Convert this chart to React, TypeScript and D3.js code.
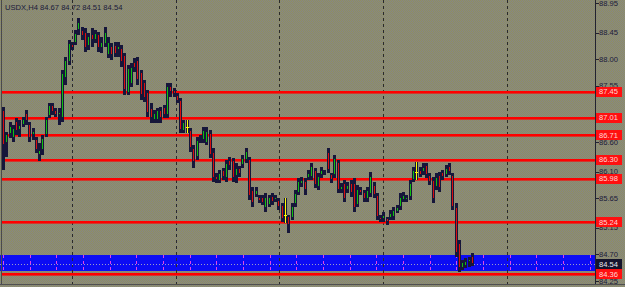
import React, { useEffect } from "react";
import * as d3 from "d3";

const symbol = "USDX,H4";
const opens = [87.14,86.58,86.74,86.67,86.96,86.80,86.89,87.09,86.90,86.72,
86.65,86.38,86.46,86.72,87.04,87.23,87.14,87.06,87.01,87.68,
87.95,88.26,88.27,88.49,88.49,88.46,88.22,88.43,88.32,88.43,
88.19,88.26,88.07,88.22,88.24,88.16,88.19,88.07,87.43,87.58,
87.95,87.99,87.78,87.61,87.45,87.17,86.97,86.97,87.14,87.19,
87.06,87.55,87.48,87.39,87.31,86.79,86.85,86.80,86.50,86.35,
86.63,86.63,86.58,86.75,86.43,86.03,85.94,86.13,85.99,86.30,
86.30,86.03,86.16,86.21,86.30,86.31,85.79,85.70,85.67,85.67,
85.48,85.54,85.69,85.62,85.62,85.54,85.37,85.35,85.32,85.55,
85.74,85.89,85.94,85.99,86.01,86.13,85.84,86.04,86.11,86.43,
86.06,86.04,86.26,85.79,85.91,85.79,85.91,85.91,85.54,85.81,
85.76,85.64,85.72,85.87,85.70,85.33,85.30,85.32,85.32,85.33,
85.42,85.50,85.62,85.62,85.67,85.96,86.09,86.13,86.09,86.21,
86.04,85.96,85.84,86.04,86.09,86.04,86.19,86.04,85.50,84.89,
84.47,84.50,84.57,84.67];
const highs = [87.19,86.77,86.94,86.89,87.01,86.97,87.02,87.14,86.94,86.84,
86.68,86.58,86.72,87.02,87.26,87.26,87.17,87.17,87.82,88.04,
88.32,88.29,88.49,88.70,88.54,88.53,88.44,88.53,88.49,88.46,
88.37,88.54,88.37,88.27,88.29,88.29,88.24,88.10,87.90,87.94,
88.02,88.04,87.82,87.65,87.48,87.26,87.14,87.17,87.19,87.23,
87.60,87.60,87.51,87.43,87.34,86.97,86.97,86.84,86.55,86.68,
86.72,86.85,86.85,86.80,86.50,86.08,86.13,86.16,86.30,86.35,
86.33,86.25,86.19,86.38,86.50,86.35,85.84,85.84,85.70,85.70,
85.74,85.70,85.74,85.70,85.65,85.57,85.65,85.37,85.57,85.79,
85.99,86.01,85.99,86.13,86.25,86.16,86.08,86.18,86.13,86.50,
86.08,86.38,86.30,85.91,85.96,85.92,85.96,85.99,85.87,85.84,
85.79,85.84,86.09,85.92,85.74,85.37,85.42,85.33,85.45,85.50,
85.54,85.74,85.76,85.70,85.96,86.18,86.26,86.18,86.25,86.25,
86.08,86.01,86.08,86.09,86.13,86.21,86.25,86.08,85.57,84.94,
84.61,84.64,84.66,84.72];
const lows = [86.13,86.35,86.67,86.60,86.72,86.68,86.85,86.89,86.60,86.63,
86.41,86.28,86.38,86.68,87.01,87.06,87.02,86.89,86.94,87.56,
87.90,88.16,88.24,88.41,88.32,88.12,88.16,88.21,88.27,88.12,
88.10,88.21,88.02,87.99,88.04,88.04,87.87,87.39,87.39,87.53,
87.78,87.56,87.31,87.28,87.02,86.92,86.92,86.92,86.92,87.01,
87.01,87.36,87.36,87.26,86.75,86.75,86.75,86.43,86.16,86.30,
86.58,86.58,86.55,86.33,85.92,85.91,85.91,85.96,85.92,86.13,
85.92,85.91,86.01,86.16,86.25,85.62,85.50,85.67,85.57,85.54,
85.42,85.50,85.54,85.59,85.45,85.25,85.23,85.06,85.28,85.50,
85.70,85.84,85.70,85.96,85.96,85.82,85.79,85.99,86.04,86.08,
85.91,85.99,85.74,85.74,85.59,85.74,85.67,85.42,85.50,85.70,
85.59,85.59,85.67,85.65,85.28,85.25,85.25,85.20,85.28,85.28,
85.40,85.45,85.59,85.59,85.62,85.92,85.96,86.01,86.04,85.99,
85.87,85.57,85.79,85.76,85.96,86.01,86.04,85.45,84.66,84.40,
84.44,84.47,84.49,84.51];
const closes = [86.55,86.74,86.87,86.84,86.79,86.89,86.99,86.96,86.67,86.79,
86.46,86.46,86.67,86.99,87.23,87.11,87.06,87.11,87.77,87.99,
88.27,88.19,88.44,88.63,88.39,88.19,88.39,88.32,88.44,88.19,
88.29,88.46,88.29,88.07,88.09,88.22,87.95,87.48,87.85,87.87,
87.85,87.65,87.39,87.34,87.09,87.01,87.09,87.14,87.01,87.06,
87.55,87.45,87.41,87.29,86.80,86.94,86.85,86.50,86.26,86.63,
86.67,86.80,86.79,86.38,85.99,85.96,86.08,86.01,86.25,86.19,
85.99,86.16,86.06,86.33,86.45,85.69,85.57,85.79,85.60,85.57,
85.67,85.67,85.59,85.67,85.50,85.30,85.37,85.20,85.52,85.74,
85.94,85.96,85.79,86.08,86.19,85.87,86.03,86.13,86.08,86.13,
85.96,86.33,85.79,85.86,85.64,85.87,85.74,85.48,85.81,85.74,
85.64,85.79,86.03,85.70,85.33,85.28,85.37,85.25,85.40,85.45,
85.50,85.67,85.70,85.67,85.91,86.13,86.09,86.04,86.18,86.04,
85.92,85.64,86.01,85.82,86.01,86.16,86.09,85.50,84.72,84.47,
84.57,84.59,84.62,84.54];

const priceTicks = [88.95, 88.45, 88.0, 87.55, 87.05, 86.6, 86.1, 85.65, 85.15, 84.7, 84.25];
const levelLines = [87.45, 87.01, 86.71, 86.3, 85.98, 85.24, 84.36];
const zoneBand = [84.69, 84.42];
const gridBars = [21, 52.7, 84.1, 115.8, 153.6];

const W = 625, H = 287;
const AXIS_X = 595.5;
const BOTTOM = 284;
const NAVY = "#16163a";
const FONT = "'Liberation Sans', Arial, sans-serif";

export default function App() {
  useEffect(() => { document.body.style.margin = "0"; }, []);
  const y = d3.scaleLinear().domain([84.25, 88.95]).range([281, 3]);
  const x = d3.scaleLinear().domain([0, opens.length - 1]).range([3, 472]);
  const n = opens.length;
  const last = n - 1;
  const bid = closes[last];
  const bandTop = y(zoneBand[0]);
  const bandBot = y(zoneBand[1]);
  const magentaXs = d3.range(3, AXIS_X - 2, 26.67);

  return (
    <svg width={W} height={H} style={{ position: "absolute", left: 0, top: 0, display: "block" }}>
      <defs>
        <pattern id="dither" width="2" height="2" patternUnits="userSpaceOnUse">
          <rect width="2" height="2" fill="#868686" />
          <rect x="0" y="0" width="1" height="1" fill="#8f8f60" />
          <rect x="1" y="1" width="1" height="1" fill="#8f8f60" />
        </pattern>
        <clipPath id="plot"><rect x="0" y="0" width={AXIS_X} height={BOTTOM} /></clipPath>
      </defs>
      <rect width={W} height={H} fill="url(#dither)" shapeRendering="crispEdges" />

      <g clipPath="url(#plot)">
        <rect x={0} y={bandTop} width={AXIS_X} height={bandBot - bandTop} fill="#0c0cf4" shapeRendering="crispEdges" />
        {magentaXs.map((mx, i) => (
          <line key={"m" + i} x1={Math.round(mx) + 0.5} x2={Math.round(mx) + 0.5} y1={bandTop} y2={bandBot}
            stroke="#e040e8" strokeDasharray="3,3" shapeRendering="crispEdges" />
        ))}
        {gridBars.map((b, i) => (
          <line key={"g" + i} x1={Math.round(x(b)) + 0.5} x2={Math.round(x(b)) + 0.5} y1={0} y2={BOTTOM}
            stroke="#2a2a2a" strokeDasharray="3,3" shapeRendering="crispEdges" />
        ))}
        <line x1={0} x2={AXIS_X} y1={Math.round(y(bid)) + 0.5} y2={Math.round(y(bid)) + 0.5}
          stroke="#9a9ac8" strokeDasharray="1,2" shapeRendering="crispEdges" />
        {levelLines.map((p, i) => (
          <rect key={"l" + i} x={2} y={Math.round(y(p)) - 1} width={AXIS_X - 2} height={2.6} fill="#ff0000" />
        ))}
        {opens.map((o, i) => {
          const c = closes[i];
          const cx = Math.round(x(i));
          const yh = Math.round(y(highs[i]));
          const yl = Math.round(y(lows[i]));
          const yTop = Math.round(y(Math.max(o, c)));
          const yBot = Math.round(y(Math.min(o, c)));
          const doji = o === c;
          const col = c > o ? "#10c010" : "#d81010";
          return (
            <g key={"c" + i} shapeRendering="crispEdges">
              <rect x={cx - 1} y={yh} width={3} height={Math.max(1, yl - yh)} fill={NAVY} />
              {doji ? (
                <>
                  <rect x={cx} y={yh} width={1} height={Math.max(1, yl - yh)} fill="#ffff00" />
                  <rect x={cx - 1} y={yTop} width={3} height={1} fill="#ffff00" />
                </>
              ) : (
                yBot - yTop > 2 && <rect x={cx} y={yTop + 1} width={1} height={yBot - yTop - 2} fill={col} />
              )}
            </g>
          );
        })}
      </g>

      <line x1={1.5} x2={1.5} y1={0} y2={BOTTOM} stroke="#4a4a4a" shapeRendering="crispEdges" />
      <line x1={AXIS_X} x2={AXIS_X} y1={0} y2={BOTTOM} stroke="#222230" shapeRendering="crispEdges" />
      <line x1={0} x2={W} y1={BOTTOM + 0.5} y2={BOTTOM + 0.5} stroke="#505050" shapeRendering="crispEdges" />

      <text x={5} y={10} fontFamily={FONT} fontSize={7.6} fill="#1a1a3a">
        {`${symbol}  ${opens[last].toFixed(2)} ${highs[last].toFixed(2)} ${lows[last].toFixed(2)} ${closes[last].toFixed(2)}`}
      </text>

      {priceTicks.map((p, i) => (
        <g key={"t" + i}>
          <line x1={AXIS_X} x2={AXIS_X + 3} y1={Math.round(y(p)) + 0.5} y2={Math.round(y(p)) + 0.5} stroke="#222230" shapeRendering="crispEdges" />
          <text x={599} y={y(p)} dy="0.35em" fontFamily={FONT} fontSize={7.6} fill="#1a1a3a">{p.toFixed(2)}</text>
        </g>
      ))}
      {levelLines.map((p, i) => (
        <g key={"lb" + i}>
          <rect x={596} y={Math.round(y(p)) - 5} width={26} height={10} fill="#ff1010" shapeRendering="crispEdges" />
          <text x={599} y={y(p)} dy="0.35em" fontFamily={FONT} fontSize={7.6} fill="#ffd6d6">{p.toFixed(2)}</text>
        </g>
      ))}
      <rect x={596} y={Math.round(y(bid)) - 5} width={26} height={10} fill="#14142c" shapeRendering="crispEdges" />
      <text x={599} y={y(bid)} dy="0.35em" fontFamily={FONT} fontSize={7.6} fill="#e8e8f0">{bid.toFixed(2)}</text>
    </svg>
  );
}
